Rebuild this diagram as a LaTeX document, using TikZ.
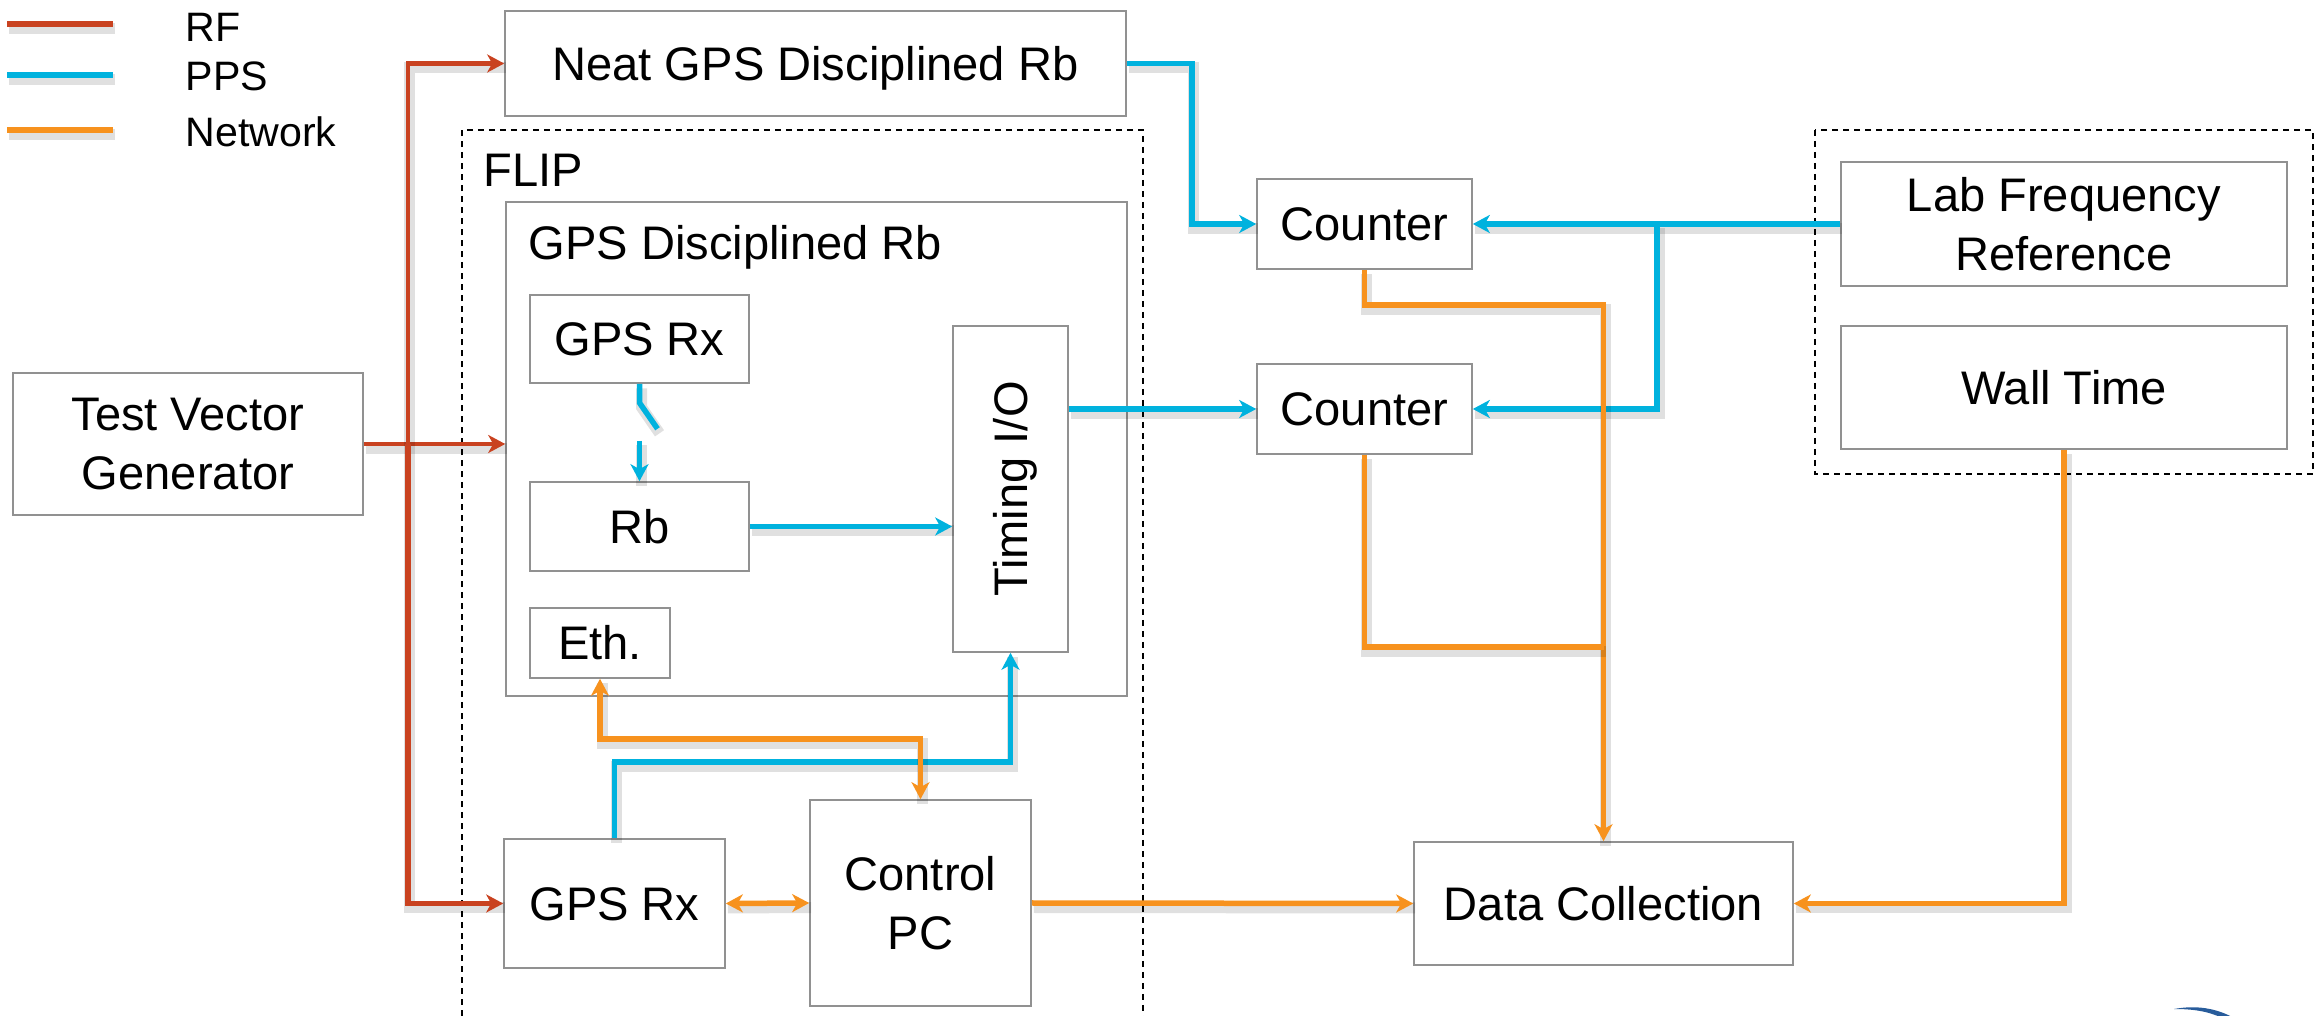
\documentclass[tikz,border=0pt]{standalone}
\usepackage{fontspec}
\setmainfont{Liberation Sans}
\usetikzlibrary{arrows.meta}

\definecolor{rfred}{RGB}{201,66,32}
\definecolor{ppsblue}{RGB}{0,178,222}
\definecolor{netorange}{RGB}{247,146,30}
\definecolor{boxgray}{RGB}{145,145,145}
\definecolor{logoblue}{RGB}{40,92,155}

\begin{document}
\begin{tikzpicture}[x=0.1mm, y=-0.1mm,
  every node/.style={font=\fontsize{13.4pt}{16.8pt}\selectfont},
  box/.style={draw=boxgray, line width=0.16mm, fill=white, inner sep=0pt, align=center},
  oneline/.style={text height=9.6pt, text depth=0pt},
  legendtext/.style={anchor=base west, inner sep=0pt, font=\fontsize{11.7pt}{14pt}\selectfont},
  shadowed/.style={preaction={draw=black, draw opacity=0.12, line width=1.1mm, arrows=-,
      transform canvas={xshift=0.2mm, yshift=-0.45mm}}},
  wire/.style={line width=0.55mm, shadowed},
  rf/.style={wire, draw=rfred},
  pps/.style={wire, draw=ppsblue},
  net/.style={wire, draw=netorange},
  arr/.style={-{Stealth[length=1.7mm, width=1.8mm, inset=0.5mm]}},
  darr/.style={{Stealth[length=1.7mm, width=1.8mm, inset=0.5mm]}-{Stealth[length=1.7mm, width=1.8mm, inset=0.5mm]}},
  dashbox/.style={draw=black, line width=0.15mm, dash pattern=on 0.6mm off 0.5mm},
]
\useasboundingbox (0,0) rectangle (2318,1016);

% legend
\draw[rf]  (7,24)  -- (113,24);
\draw[pps] (7,75)  -- (113,75);
\draw[net] (7,130) -- (113,130);
\node[legendtext] (legrf)  at (185,42)  {RF};
\node[legendtext] (legpps) at (185,91)  {PPS};
\node[legendtext] (legnet) at (185,147) {Network};

% dashed groupings
\draw[dashbox] (462,1016) |- (1143,130) -- (1143,1016);
\draw[dashbox] (1815,130) rectangle (2313,474);
\node[anchor=base west, inner sep=0pt] (fliplabel) at (483,187) {FLIP};

% blocks
\node[box, oneline, minimum width=62.1mm, minimum height=10.5mm] (neat) at (815.5,63.5) {Neat GPS Disciplined Rb};
\node[box, minimum width=62.1mm, minimum height=49.4mm] (gdr) at (816.5,449) {};
\node[anchor=base west, inner sep=0pt] (gdrlabel) at (528,260) {GPS Disciplined Rb};
\node[box, oneline, minimum width=21.9mm, minimum height=8.8mm] (grx1) at (639.5,339) {GPS Rx};
\node[box, oneline, minimum width=21.9mm, minimum height=8.9mm] (rb) at (639.5,526.5) {Rb};
\node[box, oneline, minimum width=14.0mm, minimum height=7.0mm] (eth) at (600,643) {Eth.};
\node[box, minimum width=11.5mm, minimum height=32.6mm] (tio) at (1010.5,489) {};
\node[rotate=90, oneline, inner sep=0pt] (tiolabel) at (tio.center) {Timing I/O};
\node[box, minimum width=35.0mm, minimum height=14.2mm] (tvg) at (188,444) {Test Vector\\Generator};
\node[box, oneline, minimum width=22.1mm, minimum height=12.9mm] (grx2) at (614.5,903.5) {GPS Rx};
\node[box, minimum width=22.1mm, minimum height=20.6mm] (pc) at (920.5,903) {Control\\PC};
\node[box, oneline, minimum width=21.5mm, minimum height=9.0mm] (c1) at (1364.5,224) {Counter};
\node[box, oneline, minimum width=21.5mm, minimum height=9.0mm] (c2) at (1364.5,409) {Counter};
\node[box, oneline, minimum width=37.9mm, minimum height=12.3mm] (dc) at (1603.5,903.5) {Data Collection};
\node[box, minimum width=44.6mm, minimum height=12.4mm] (lab) at (2064,224) {Lab Frequency\\Reference};
\node[box, oneline, minimum width=44.6mm, minimum height=12.3mm] (wall) at (2064,387.5) {Wall Time};

% RF distribution
\coordinate (rfbus) at ([xshift=4.4mm]tvg.east);
\draw[rf, arr, line width=0.45mm] (tvg.east) -- (tvg.east -| gdr.west);
\draw[rf, arr, line width=0.45mm] (rfbus) |- (neat.west);
\draw[rf, arr] (rfbus) |- (grx2.west);

% PPS paths
\coordinate (ppsbend) at ([xshift=6.5mm]neat.east);
\draw[pps, arr] (neat.east) -- (ppsbend) |- (c1.west);
\coordinate (labsplit) at (1657,224);
\draw[pps, arr] (lab.west) -- (c1.east);
\draw[pps, arr] (labsplit) |- (c2.east);
\draw[pps, arr] (tio.east |- c2.west) -- (c2.west);
\draw[pps, arr] (rb.east) -- (rb.east -| tio.west);
\draw[pps] (grx1.south) -- ++(0,19) -- ++(18,26);
\draw[pps, arr] ([yshift=-5.7mm]grx1.south) -- (rb.north);
\draw[pps, arr] (grx2.north) -- ++(0,-76) -| (tio.south);

% network paths
\coordinate (netrow) at (0,647);
\draw[net, arr] (c1.south) -- ++(0,35) -| (dc.north);
\draw[net] (c2.south) |- (dc.north |- netrow);
\draw[net, darr] (eth.south) -- ++(0,60) -| (pc.north);
\draw[net, darr] (grx2.east) -- (pc.west);
\draw[net, arr] (pc.east) -- (dc.west);
\draw[net, arr] (wall.south) |- (dc.east);

% partial logo arc at the lower edge
\fill[logoblue] (2174,1009) .. controls (2196,1005) and (2216,1008) .. (2234,1018)
  -- (2222,1018) .. controls (2208,1011) and (2192,1009) .. (2174,1009) -- cycle;
\end{tikzpicture}
\end{document}
